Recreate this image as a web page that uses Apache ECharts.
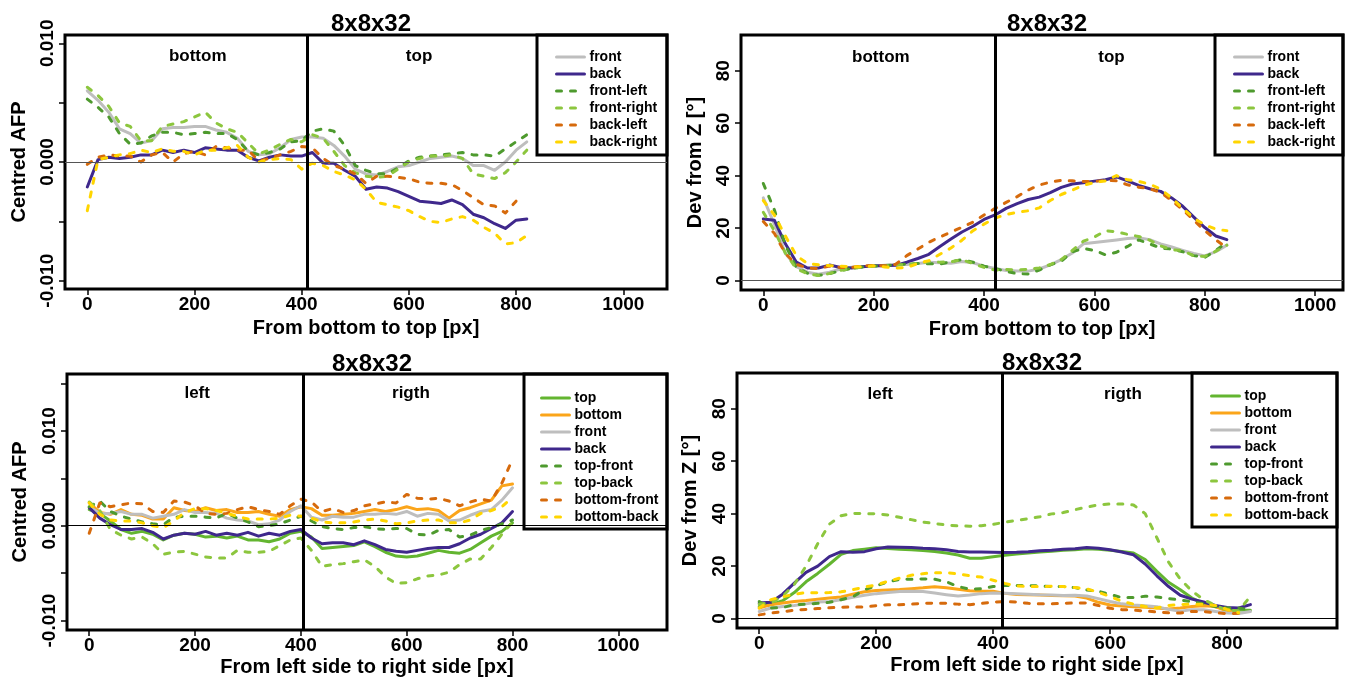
<!DOCTYPE html>
<html><head><meta charset="utf-8">
<script src="https://cdn.jsdelivr.net/npm/echarts@6/dist/echarts.min.js"></script>
<style>html,body{margin:0;padding:0;background:#fff}#c{width:1352px;height:680px}</style>
</head><body><div id="c"></div>
<script>
// ---------- Panel 1: Centred AFP, bottom -> top ----------
const p1X = [0,20,40,60,80,100,120,140,160,180,200,220,240,260,280,300,320,340,360,380,400,420,440,460,480,500,520,540,560,580,600,620,640,660,680,700,720,740,760,780,800,820];
const p1Front = [0.0060,0.0052,0.0042,0.0028,0.0024,0.0016,0.0018,0.0028,0.0029,0.0029,0.0030,0.0030,0.0027,0.0025,0.0020,0.0009,0.0006,0.0007,0.0012,0.0019,0.0021,0.0021,0.0020,0.0014,0.0005,-0.0006,-0.0010,-0.0011,-0.0008,-0.0004,-0.0003,0.0000,0.0003,0.0004,0.0005,0.0003,-0.0003,-0.0003,-0.0007,0.0000,0.0010,0.0017];
const p1Back = [-0.0021,0.0002,0.0004,0.0003,0.0004,0.0006,0.0006,0.0010,0.0008,0.0010,0.0008,0.0012,0.0011,0.0010,0.0010,0.0004,0.0001,0.0004,0.0006,0.0005,0.0005,0.0008,-0.0001,-0.0001,-0.0007,-0.0012,-0.0023,-0.0021,-0.0022,-0.0025,-0.0029,-0.0033,-0.0034,-0.0035,-0.0032,-0.0036,-0.0044,-0.0047,-0.0052,-0.0056,-0.0049,-0.0048];
const p1FrontLeft = [0.0053,0.0046,0.0038,0.0024,0.0015,0.0016,0.0022,0.0025,0.0025,0.0023,0.0024,0.0025,0.0024,0.0024,0.0019,0.0009,0.0006,0.0008,0.0011,0.0017,0.0018,0.0026,0.0028,0.0026,0.0014,-0.0003,-0.0007,-0.0010,-0.0010,-0.0005,0.0001,0.0004,0.0005,0.0006,0.0007,0.0008,0.0006,0.0006,0.0005,0.0011,0.0017,0.0023];
const p1FrontRight = [0.0063,0.0056,0.0047,0.0033,0.0030,0.0018,0.0018,0.0030,0.0032,0.0034,0.0038,0.0042,0.0033,0.0028,0.0025,0.0016,0.0007,0.0010,0.0015,0.0019,0.0017,0.0023,0.0020,0.0009,-0.0003,-0.0009,-0.0012,-0.0013,-0.0012,-0.0006,0.0000,0.0003,0.0005,0.0005,0.0006,0.0003,-0.0010,-0.0012,-0.0014,-0.0009,0.0000,0.0010];
const p1BackLeft = [-0.0002,0.0004,0.0006,0.0005,0.0005,0.0000,0.0006,0.0008,0.0000,0.0007,0.0009,0.0006,0.0013,0.0012,0.0010,0.0010,0.0001,0.0003,0.0006,0.0009,0.0013,0.0012,0.0003,-0.0003,-0.0006,-0.0010,-0.0018,-0.0012,-0.0012,-0.0013,-0.0014,-0.0017,-0.0018,-0.0018,-0.0019,-0.0024,-0.0030,-0.0036,-0.0037,-0.0043,-0.0033];
const p1BackRight = [-0.0041,0.0002,0.0004,0.0006,0.0007,0.0010,0.0008,0.0011,0.0009,0.0009,0.0006,0.0010,0.0010,0.0012,0.0014,0.0004,0.0000,0.0002,0.0003,0.0002,-0.0006,-0.0001,-0.0003,-0.0008,-0.0011,-0.0015,-0.0023,-0.0034,-0.0036,-0.0038,-0.0041,-0.0046,-0.0050,-0.0051,-0.0048,-0.0046,-0.0049,-0.0055,-0.0060,-0.0069,-0.0068,-0.0062];

// ---------- Panel 2: Dev from Z, bottom -> top ----------
const p2X = [0,20,40,60,80,100,120,140,160,180,200,220,240,260,280,300,320,340,360,380,400,420,440,460,480,500,520,540,560,580,600,620,640,660,680,700,720,740,760,780,800,820,840];
const p2Front = [31.5,21.5,10.3,5.3,3.2,2.4,3.2,4.4,5.1,5.4,5.5,5.8,6.1,6.1,6.5,7.0,6.8,6.6,7.3,6.8,5.5,4.6,3.8,3.6,3.6,4.4,6.0,8.0,10.5,14.0,14.5,15.0,15.5,16.0,16.3,15.6,14.0,12.8,11.5,10.3,9.4,11.0,13.5];
const p2Back = [23.5,23.0,14.0,7.0,4.8,4.8,5.9,5.0,4.8,5.3,5.6,5.6,5.8,7.0,8.4,10.0,13.0,15.8,18.5,20.7,23.3,25.0,27.5,29.3,30.9,31.8,33.5,35.5,36.8,37.3,37.9,38.4,39.5,38.0,36.3,35.0,34.0,31.5,28.3,24.2,20.2,17.0,15.6];
const p2FrontLeft = [37.0,27.0,13.5,5.0,2.8,2.0,2.6,3.8,4.6,5.2,5.5,5.7,6.0,6.3,6.5,6.4,6.3,7.2,8.0,7.0,5.5,4.6,3.5,2.6,2.5,4.0,6.0,7.4,11.0,12.2,11.5,9.8,10.8,13.0,15.5,14.0,12.4,12.0,11.0,9.5,8.8,11.5,14.5];
const p2FrontRight = [26.0,19.0,10.5,4.5,2.6,1.9,2.7,3.9,4.5,5.2,5.5,5.6,5.9,6.1,6.6,7.2,7.0,7.2,7.9,6.5,5.0,4.0,4.2,4.0,4.3,4.8,6.1,8.0,11.5,15.0,16.6,19.0,18.6,17.6,16.8,15.4,13.2,11.8,11.4,9.4,9.2,11.2,13.5];
const p2BackLeft = [22.5,18.0,10.3,6.2,4.8,4.6,5.5,5.0,5.0,5.6,5.8,5.6,6.2,9.5,12.0,14.6,16.6,18.5,20.3,22.3,25.0,27.5,29.8,32.0,34.5,36.4,37.5,38.2,38.0,37.8,37.8,38.2,38.0,36.5,35.6,35.0,33.6,30.5,27.0,23.0,19.0,15.5,12.5];
const p2BackRight = [30.5,25.0,17.0,9.5,6.5,6.0,5.7,5.5,5.3,5.2,5.6,5.2,4.8,5.0,6.5,7.6,10.0,12.4,15.4,19.0,21.5,23.8,25.2,26.0,26.6,27.7,30.5,32.8,34.5,36.3,37.4,38.0,40.0,38.4,37.8,36.8,34.8,31.5,27.5,23.8,21.2,19.6,19.0];

// ---------- Panel 3: Centred AFP, left -> right ----------
const p3X = [0,20,40,60,80,100,120,140,160,180,200,220,240,260,280,300,320,340,360,380,400,420,440,460,480,500,520,540,560,580,600,620,640,660,680,700,720,740,760,780,800];
const p3Top = [0.0017,0.0013,0.0005,-0.0004,-0.0008,-0.0006,-0.0009,-0.0015,-0.0010,-0.0008,-0.0009,-0.0012,-0.0011,-0.0013,-0.0011,-0.0015,-0.0015,-0.0017,-0.0014,-0.0008,-0.0006,-0.0012,-0.0024,-0.0023,-0.0022,-0.0021,-0.0017,-0.0022,-0.0028,-0.0032,-0.0033,-0.0032,-0.0029,-0.0026,-0.0028,-0.0029,-0.0025,-0.0018,-0.0011,-0.0006,0.0003];
const p3Bottom = [0.0024,0.0014,0.0012,0.0017,0.0012,0.0011,0.0007,0.0007,0.0019,0.0016,0.0015,0.0019,0.0016,0.0017,0.0014,0.0014,0.0015,0.0012,0.0010,0.0017,0.0020,0.0018,0.0011,0.0011,0.0012,0.0013,0.0015,0.0017,0.0015,0.0017,0.0020,0.0017,0.0018,0.0016,0.0008,0.0016,0.0019,0.0023,0.0027,0.0042,0.0044];
const p3Front = [0.0020,0.0013,0.0013,0.0015,0.0012,0.0012,0.0008,0.0010,0.0012,0.0017,0.0014,0.0014,0.0013,0.0008,0.0006,0.0005,0.0001,0.0002,0.0006,0.0015,0.0021,0.0009,0.0006,0.0010,0.0009,0.0009,0.0012,0.0012,0.0013,0.0012,0.0015,0.0010,0.0013,0.0012,0.0005,0.0006,0.0011,0.0015,0.0017,0.0027,0.0040];
const p3Back = [0.0019,0.0008,0.0001,-0.0004,-0.0004,-0.0003,-0.0007,-0.0014,-0.0010,-0.0008,-0.0009,-0.0006,-0.0010,-0.0008,-0.0010,-0.0007,-0.0011,-0.0008,-0.0010,-0.0006,-0.0004,-0.0013,-0.0019,-0.0018,-0.0018,-0.0020,-0.0016,-0.0020,-0.0025,-0.0027,-0.0028,-0.0026,-0.0024,-0.0023,-0.0023,-0.0019,-0.0013,-0.0009,-0.0003,0.0003,0.0015];
const p3TopFront = [0.0020,0.0026,0.0015,0.0010,0.0007,0.0004,0.0002,0.0001,0.0009,0.0010,0.0010,0.0009,0.0008,0.0013,0.0008,0.0004,-0.0001,0.0000,0.0002,0.0006,0.0010,0.0005,-0.0001,-0.0003,-0.0004,-0.0002,-0.0001,-0.0003,-0.0004,-0.0003,-0.0003,-0.0009,-0.0010,-0.0005,-0.0004,-0.0012,-0.0010,-0.0005,-0.0002,0.0002,0.0006];
const p3TopBack = [0.0025,0.0016,-0.0004,-0.0010,-0.0014,-0.0012,-0.0019,-0.0030,-0.0028,-0.0027,-0.0030,-0.0033,-0.0034,-0.0034,-0.0026,-0.0028,-0.0028,-0.0027,-0.0021,-0.0015,-0.0013,-0.0026,-0.0043,-0.0041,-0.0040,-0.0038,-0.0036,-0.0043,-0.0054,-0.0061,-0.0060,-0.0056,-0.0053,-0.0052,-0.0049,-0.0041,-0.0035,-0.0035,-0.0023,-0.0009,0.0004];
const p3BottomFront = [-0.0008,0.0024,0.0020,0.0022,0.0024,0.0023,0.0015,0.0014,0.0026,0.0025,0.0021,0.0013,0.0012,0.0013,0.0017,0.0020,0.0017,0.0015,0.0012,0.0021,0.0028,0.0025,0.0015,0.0018,0.0014,0.0016,0.0021,0.0023,0.0025,0.0024,0.0033,0.0029,0.0028,0.0029,0.0026,0.0021,0.0025,0.0028,0.0026,0.0045,0.0070];
const p3BottomBack = [0.0024,0.0012,0.0006,0.0005,0.0005,0.0003,0.0000,-0.0002,0.0005,0.0014,0.0018,0.0018,0.0016,0.0013,0.0010,0.0007,0.0007,0.0007,0.0008,0.0011,0.0010,0.0008,0.0004,0.0003,0.0003,0.0004,0.0006,0.0007,0.0005,0.0002,0.0003,0.0005,0.0006,0.0006,0.0003,0.0003,0.0006,0.0013,0.0016,0.0020,0.0030];

// ---------- Panel 4: Dev from Z, left -> right ----------
const p4X = [0,20,40,60,80,100,120,140,160,180,200,220,240,260,280,300,320,340,360,380,400,420,440,460,480,500,520,540,560,580,600,620,640,660,680,700,720,740,760,780,800,820,840];
const p4Top = [4.6,5.3,6.8,9.9,14.0,17.2,20.7,24.5,25.9,26.4,27.0,26.7,26.4,26.2,25.9,25.6,25.0,24.2,23.0,23.0,23.6,24.1,24.6,25.0,25.4,25.7,26.0,26.2,26.6,26.4,26.0,25.6,25.0,22.5,18.0,13.8,11.0,7.8,5.7,4.5,3.6,3.3,3.2];
const p4Bottom = [4.0,5.3,5.9,6.5,6.9,7.4,7.8,8.2,9.3,10.2,10.7,10.9,11.1,11.4,11.7,12.1,11.7,11.2,10.6,10.4,10.4,9.6,9.2,9.1,9.0,8.8,8.7,8.6,7.8,6.2,5.2,4.8,4.5,4.3,4.0,3.6,4.0,4.6,4.9,4.6,2.8,2.0];
const p4Front = [2.7,4.0,4.6,5.0,5.6,6.3,6.5,7.2,8.1,8.9,9.5,9.9,10.3,10.4,10.3,9.7,9.1,8.6,9.0,9.5,9.7,9.6,9.5,9.3,9.1,9.0,8.8,8.9,8.6,7.6,6.5,5.6,5.2,4.9,4.5,3.5,2.8,3.4,3.4,2.7,2.1,1.9,2.7];
const p4Back = [5.9,6.2,9.3,13.5,17.6,20.0,23.6,25.5,25.3,25.5,26.6,27.3,27.2,27.1,26.8,26.6,26.2,25.6,25.4,25.4,25.3,25.2,25.3,25.5,25.8,26.0,26.4,26.6,27.1,26.8,26.2,25.4,24.3,20.8,16.3,12.2,8.9,7.4,6.3,5.0,4.2,4.0,5.3];
const p4TopFront = [6.5,4.0,4.2,5.3,5.5,5.8,6.2,7.2,8.3,11.0,12.5,14.0,14.9,15.0,15.1,15.0,14.0,12.2,11.2,11.4,12.2,12.6,12.6,12.6,12.4,12.2,12.2,11.8,10.9,10.4,9.2,8.0,8.0,8.5,8.2,7.6,7.1,6.4,5.7,4.6,4.0,4.0,3.3];
const p4TopBack = [5.5,6.0,8.5,13.0,20.0,28.5,36.0,39.2,40.1,40.0,39.9,39.5,38.6,37.7,36.8,36.2,35.7,35.3,35.2,35.4,35.9,36.7,37.4,38.1,38.8,39.9,40.4,41.5,42.5,43.3,43.7,43.7,43.3,40.0,30.8,21.5,15.0,10.5,7.2,5.0,3.2,3.0,8.5];
const p4BottomFront = [1.4,2.1,2.6,3.2,3.5,3.8,4.1,4.3,4.4,4.4,4.9,5.3,5.3,5.5,5.8,5.9,5.8,5.5,5.3,5.8,6.3,6.5,6.3,5.8,5.6,5.6,5.8,6.0,5.9,5.0,3.9,3.4,3.2,2.9,2.5,2.2,2.1,2.7,2.7,2.2,1.9,2.0];
const p4BottomBack = [4.0,7.2,8.3,9.3,9.9,9.8,9.9,10.2,11.0,12.0,12.8,14.2,15.4,16.5,17.1,17.5,17.5,17.0,16.3,15.8,14.6,13.4,12.4,12.2,12.2,12.3,12.2,11.8,11.3,10.0,8.4,6.6,5.5,4.6,4.0,5.0,5.3,5.5,5.5,5.0,3.5,2.2];

// ---------- Ticks, labels, text ----------
const xTicksWide = [0,200,400,600,800,1000];
const xTicksNarrow = [0,200,400,600,800];
const afpTicks1 = [-0.01,-0.005,0,0.005,0.01];
const afpTicks3 = [-0.01,-0.005,0,0.005,0.01,0.015];
const afpLabels = [-0.01,0,0.01];
const devTicks = [0,20,40,60,80];
const names12 = ['front','back','front-left','front-right','back-left','back-right'];
const names34 = ['top','bottom','front','back','top-front','top-back','bottom-front','bottom-back'];
const titleText = '8x8x32';

const C = {
  gray:'#BEBEBE', purple:'#3F288C', dgreen:'#4E9A2E', lgreen:'#8CC63E',
  brown:'#D66A0C', gold:'#FFD500', green:'#63B530', orange:'#FBA51A'
};
const FONT = "'Liberation Sans', Arial, Helvetica, sans-serif";

function pair(xs, ys){ return ys.map((y,i)=>[xs[i], y]); }
function line(name, xs, ys, gi, color, dashed){
  return {type:'line', name, xAxisIndex:gi, yAxisIndex:gi, data:pair(xs,ys),
    symbol:'none', showSymbol:false, silent:true, animation:false, clip:true,
    emphasis:{disabled:true},
    lineStyle:{color, width:3, type: dashed ? [5,9] : 'solid', cap:'round', join:'round'},
    itemStyle:{color}, z:3};
}
function notes(gi, items, vx, zeroColor){
  return {type:'scatter', xAxisIndex:gi, yAxisIndex:gi, symbolSize:0, silent:true, animation:false,
    itemStyle:{opacity:1},
    data: items.map(t=>({value:[t[0],t[1]], label:{show:true, formatter:t[2], position:'inside',
      color:'#000', opacity:1, fontSize:17, fontWeight:'bold', fontFamily:FONT, textBorderWidth:0}})),
    markLine:{silent:true, symbol:['none','none'], animation:false, label:{show:false},
      data:[
        {yAxis:0, lineStyle:{color:zeroColor, width:1.2, type:'solid'}},
        {xAxis:vx, lineStyle:{color:'#000', width:3, type:'solid'}}
      ]}, z:5};
}

const series = [
  line('front',p1X,p1Front,0,C.gray,false),
  line('back',p1X,p1Back,0,C.purple,false),
  line('front-left',p1X,p1FrontLeft,0,C.dgreen,true),
  line('front-right',p1X,p1FrontRight,0,C.lgreen,true),
  line('back-left',p1X,p1BackLeft,0,C.brown,true),
  line('back-right',p1X,p1BackRight,0,C.gold,true),
  notes(0, [[206,0.0089,'bottom'],[619,0.0089,'top']], 410, '#555'),

  line('front',p2X,p2Front,1,C.gray,false),
  line('back',p2X,p2Back,1,C.purple,false),
  line('front-left',p2X,p2FrontLeft,1,C.dgreen,true),
  line('front-right',p2X,p2FrontRight,1,C.lgreen,true),
  line('back-left',p2X,p2BackLeft,1,C.brown,true),
  line('back-right',p2X,p2BackRight,1,C.gold,true),
  notes(1, [[213,85,'bottom'],[631,85,'top']], 420, '#555'),

  line('top',p3X,p3Top,2,C.green,false),
  line('bottom',p3X,p3Bottom,2,C.orange,false),
  line('front',p3X,p3Front,2,C.gray,false),
  line('back',p3X,p3Back,2,C.purple,false),
  line('top-front',p3X,p3TopFront,2,C.dgreen,true),
  line('top-back',p3X,p3TopBack,2,C.lgreen,true),
  line('bottom-front',p3X,p3BottomFront,2,C.brown,true),
  line('bottom-back',p3X,p3BottomBack,2,C.gold,true),
  notes(2, [[204,0.0140,'left'],[608,0.0140,'rigth']], 405, '#000'),

  line('top',p4X,p4Top,3,C.green,false),
  line('bottom',p4X,p4Bottom,3,C.orange,false),
  line('front',p4X,p4Front,3,C.gray,false),
  line('back',p4X,p4Back,3,C.purple,false),
  line('top-front',p4X,p4TopFront,3,C.dgreen,true),
  line('top-back',p4X,p4TopBack,3,C.lgreen,true),
  line('bottom-front',p4X,p4BottomFront,3,C.brown,true),
  line('bottom-back',p4X,p4BottomBack,3,C.gold,true),
  notes(3, [[207,85.5,'left'],[622,85.5,'rigth']], 415, '#000')
];

const tickStyle = {show:true, inside:false, length:6, lineStyle:{color:'#000', width:1.5}};
const labelStyle = {color:'#000', fontSize:19, fontWeight:'bold', fontFamily:FONT};
const nameStyle = {color:'#000', fontSize:20, fontWeight:'bold', fontFamily:FONT};

function xAxis(gi, min, max, ticks, name, gap){
  return {type:'value', gridIndex:gi, min, max, name, nameLocation:'middle', nameGap:gap,
    nameTextStyle:nameStyle, axisLine:{show:false, onZero:false}, splitLine:{show:false},
    axisTick:Object.assign({customValues:ticks}, tickStyle),
    axisLabel:Object.assign({customValues:ticks, margin:6, formatter:v=>String(Math.round(v))}, labelStyle)};
}
function yAxis(gi, min, max, ticks, labels, name, fmt, gap){
  return {type:'value', gridIndex:gi, min, max, name, nameLocation:'middle', nameGap:gap,
    nameTextStyle:nameStyle, axisLine:{show:false, onZero:false}, splitLine:{show:false},
    axisTick:Object.assign({customValues:ticks}, tickStyle),
    axisLabel:Object.assign({customValues:labels, rotate:90, margin:8, formatter:fmt}, labelStyle)};
}
const afpFmt = v => Number(v).toFixed(3);
const devFmt = v => String(Math.round(v));

function legend(data, left, top){
  return {data, orient:'vertical', left, top, itemWidth:28, itemHeight:10, itemGap:3,
    selectedMode:false,
    lineStyle:{width:3},
    itemStyle:{color:'rgba(0,0,0,0)', borderWidth:0, opacity:0},
    textStyle:{color:'#000', fontSize:14, fontWeight:'bold', fontFamily:FONT}};
}
function title(left, top){
  return {text:titleText, left, top, textAlign:'center',
    textStyle:{color:'#000', fontSize:24, fontWeight:'bold', fontFamily:FONT}};
}
function box(x,y,w,h){
  return {type:'rect', shape:{x,y,width:w,height:h}, style:{fill:'none', stroke:'#000', lineWidth:3}, z:100, silent:true};
}
const gridBase = {show:true, borderColor:'#000', borderWidth:3, backgroundColor:'transparent', containLabel:false, outerBoundsMode:'none'};

const option = {
  animation:false,
  textStyle:{fontFamily:FONT},
  title:[title(366,7), title(1042,7), title(367,347), title(1037,346)],
  grid:[
    Object.assign({left:65, top:35, width:602, height:254}, gridBase),
    Object.assign({left:741, top:35, width:602, height:255}, gridBase),
    Object.assign({left:67, top:374, width:600, height:256}, gridBase),
    Object.assign({left:737, top:373, width:600, height:255}, gridBase)
  ],
  xAxis:[
    xAxis(0,-41.6,1081.6,xTicksWide,'From bottom to top [px]',29),
    xAxis(1,-40.4,1050.4,xTicksWide,'From bottom to top [px]',29),
    xAxis(2,-42,1092,xTicksWide,'From left side to right side [px]',27),
    xAxis(3,-38,988,xTicksNarrow,'From left side to right side [px]',27)
  ],
  yAxis:[
    yAxis(0,-0.0107,0.0107,afpTicks1,afpLabels,'Centred AFP',afpFmt,36),
    yAxis(1,-3.6,93.6,devTicks,devTicks,'Dev from Z [°]',devFmt,36),
    yAxis(2,-0.011,0.016,afpTicks3,afpLabels,'Centred AFP',afpFmt,37),
    yAxis(3,-3.6,93.6,devTicks,devTicks,'Dev from Z [°]',devFmt,37)
  ],
  legend:[legend(names12,550,45), legend(names12,1228,45), legend(names34,535,386), legend(names34,1205,384)],
  graphic:[box(537,35,130,120), box(1215,35,128,120), box(524,374,143,155), box(1192,373,145,154)],
  series
};
const chart = echarts.init(document.getElementById('c'), null, {renderer:'canvas'});
chart.setOption(option);
</script>
</body></html>
